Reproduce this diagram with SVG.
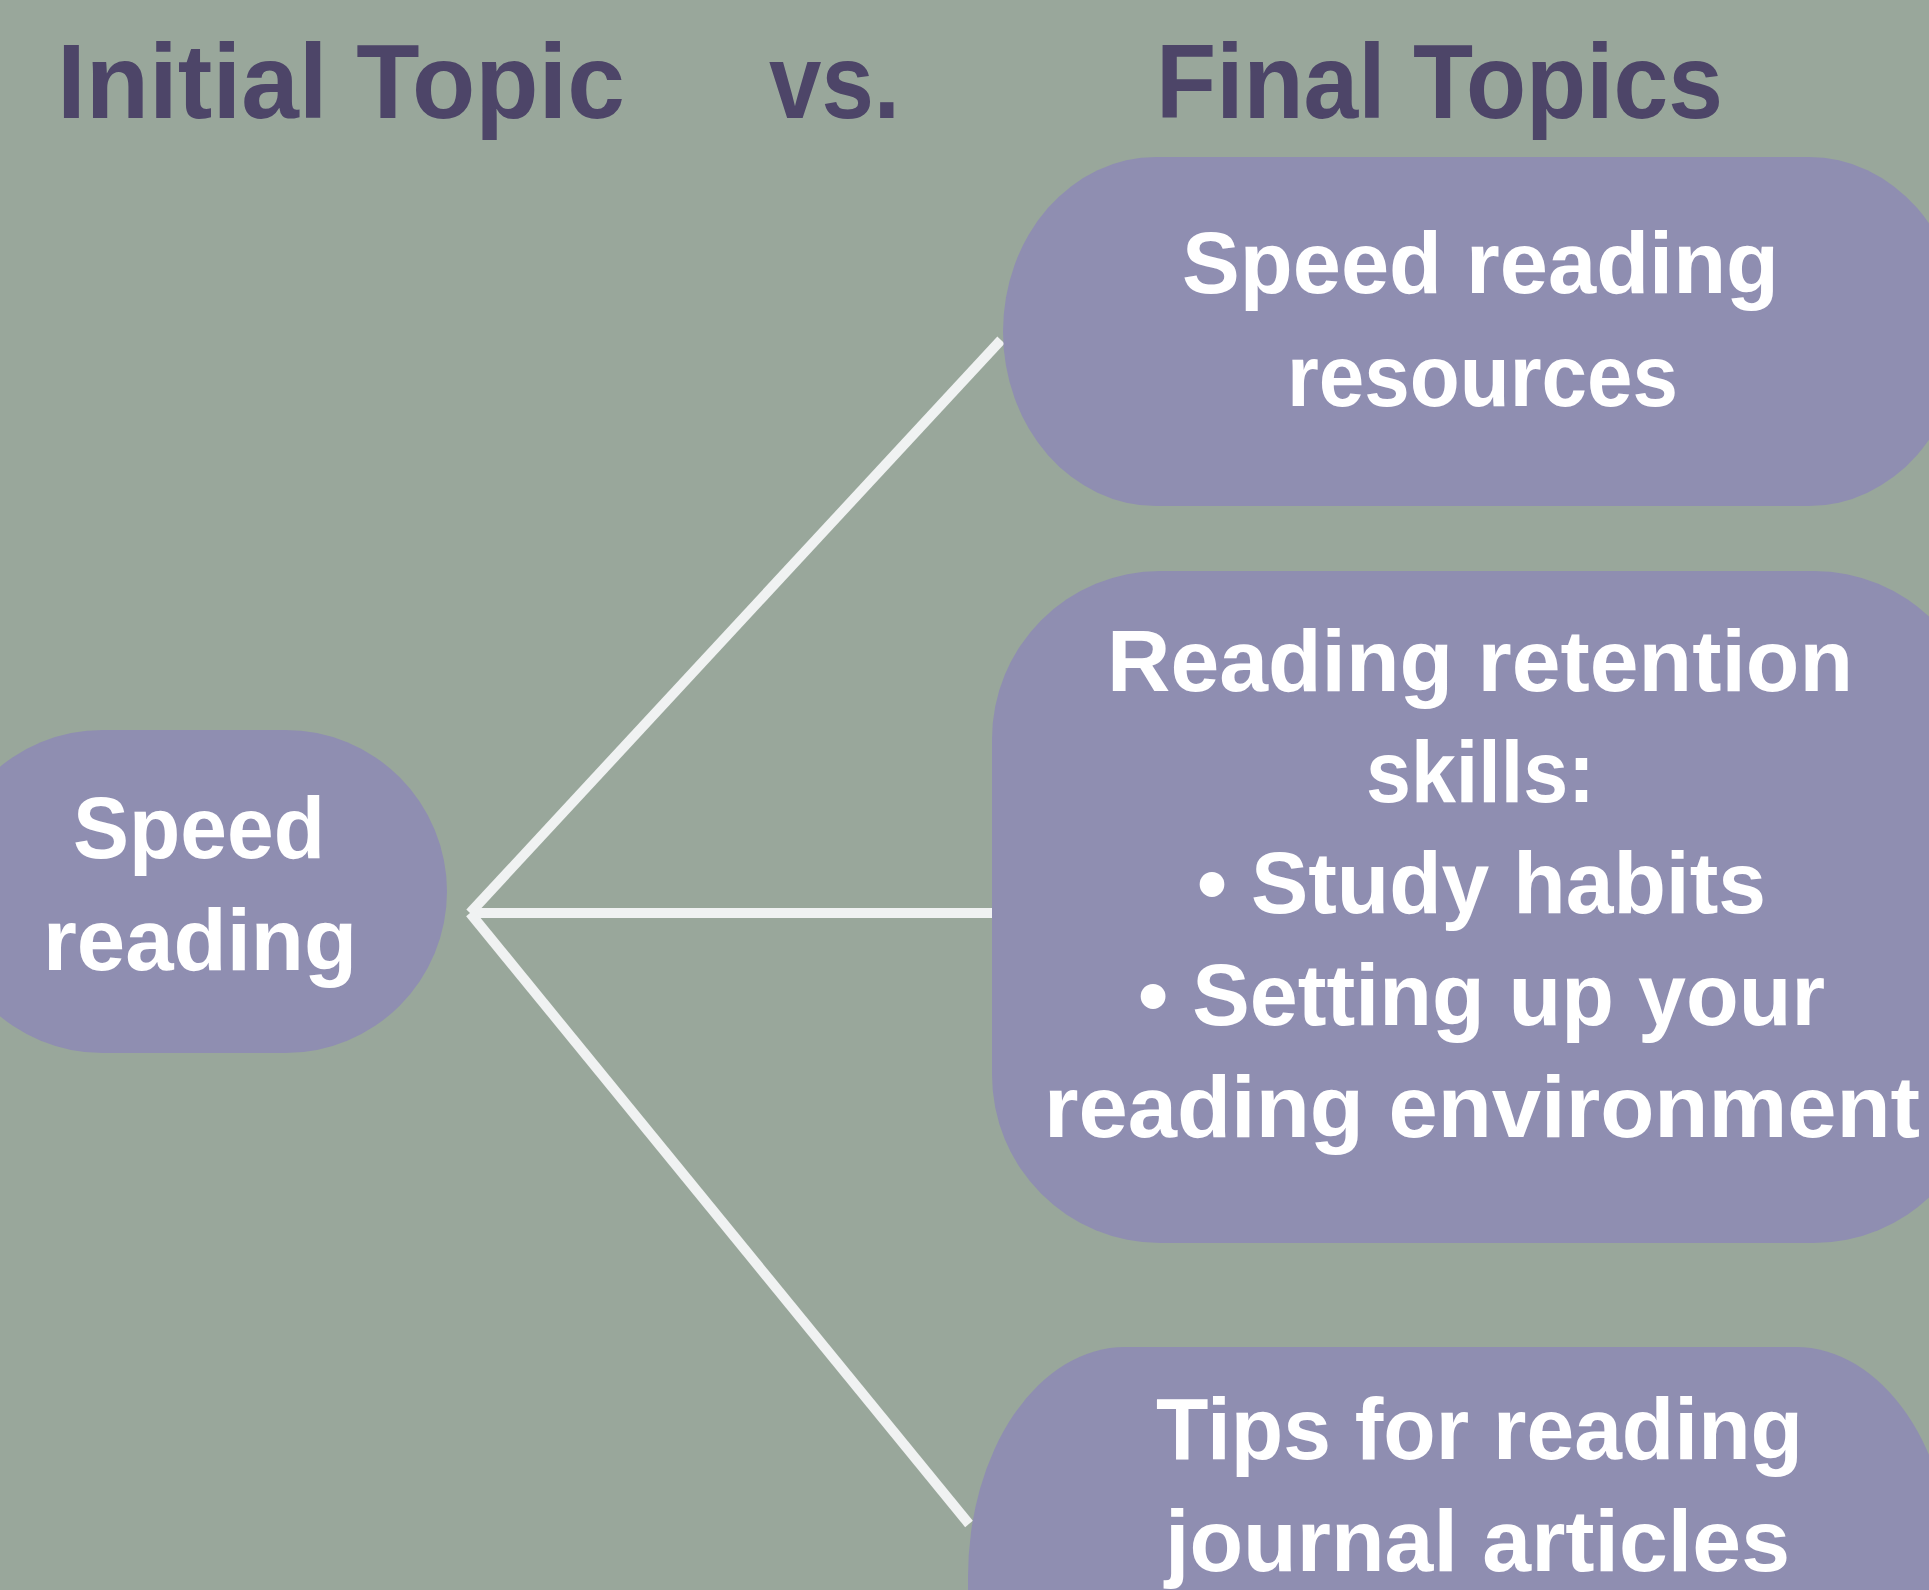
<svg xmlns="http://www.w3.org/2000/svg" width="1929" height="1590" viewBox="0 0 1929 1590">
<style>
.title{font-family:"Liberation Sans Narrow","Liberation Sans",Arial,sans-serif;font-weight:bold;font-size:106px;fill:#4d4568}
.node{fill:#8f8eb1}
.lbl{font-family:"Liberation Sans Narrow","Liberation Sans",Arial,sans-serif;font-weight:bold;font-size:88px;fill:#ffffff}
.conn{stroke:#f0f2f2;stroke-width:10;fill:none;stroke-linecap:butt}
</style>
<rect x="0" y="0" width="1929" height="1590" fill="#99a79b"/>
<g id="titles">
<text class="title" x="57" y="118" textLength="568" lengthAdjust="spacingAndGlyphs">Initial Topic</text>
<text class="title" x="769" y="118" textLength="131" lengthAdjust="spacingAndGlyphs">vs.</text>
<text class="title" x="1156" y="118" textLength="567" lengthAdjust="spacingAndGlyphs">Final Topics</text>
</g>
<g id="connectors">
<path class="conn" d="M470,913 L1001,340"/>
<path class="conn" d="M470,913 L993,913"/>
<path class="conn" d="M470,913 L969,1524"/>
</g>
<g id="node-initial">
<rect class="node" x="-59" y="730" width="506" height="323" rx="161.5" ry="161.5"/>
<text class="lbl" x="73" y="858" textLength="252" lengthAdjust="spacingAndGlyphs">Speed</text>
<text class="lbl" x="43" y="970" textLength="314" lengthAdjust="spacingAndGlyphs">reading</text>
</g>
<g id="node-resources">
<rect class="node" x="1003" y="157" width="959" height="349" rx="153" ry="174.5"/>
<text class="lbl" x="1182" y="293" textLength="597" lengthAdjust="spacingAndGlyphs">Speed reading</text>
<text class="lbl" x="1287" y="406" textLength="391" lengthAdjust="spacingAndGlyphs">resources</text>
</g>
<g id="node-retention">
<rect class="node" x="992" y="571" width="990" height="672" rx="168" ry="168"/>
<text class="lbl" x="1107" y="691" textLength="746" lengthAdjust="spacingAndGlyphs">Reading retention</text>
<text class="lbl" x="1366" y="802" textLength="229" lengthAdjust="spacingAndGlyphs">skills:</text>
<text class="lbl" x="1197" y="913" textLength="569" lengthAdjust="spacingAndGlyphs">• Study habits</text>
<text class="lbl" x="1138" y="1025" textLength="687" lengthAdjust="spacingAndGlyphs">• Setting up your</text>
<text class="lbl" x="1044" y="1137" textLength="876" lengthAdjust="spacingAndGlyphs">reading environment</text>
</g>
<g id="node-journal">
<rect class="node" x="968" y="1347" width="985" height="600" rx="157" ry="230"/>
<text class="lbl" x="1156" y="1459" textLength="647" lengthAdjust="spacingAndGlyphs">Tips for reading</text>
<text class="lbl" x="1165" y="1571" textLength="625" lengthAdjust="spacingAndGlyphs">journal articles</text>
</g>
</svg>
